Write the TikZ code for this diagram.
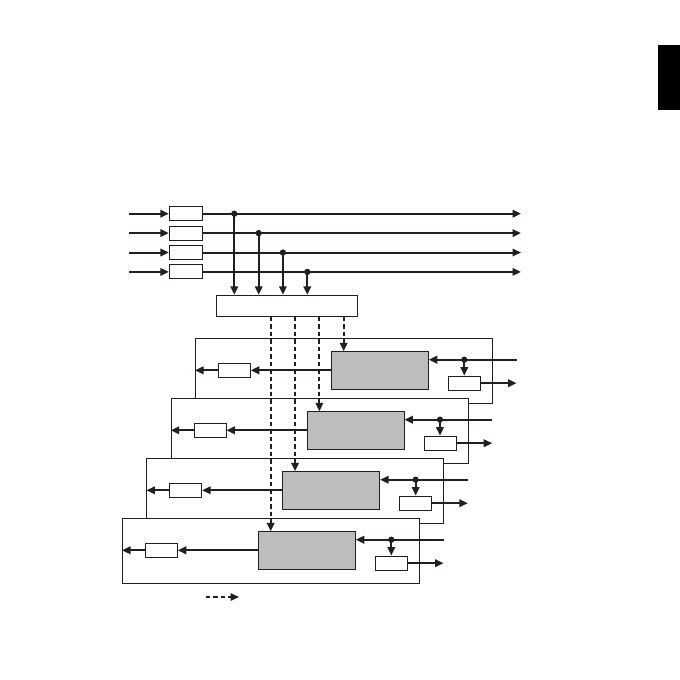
\documentclass[tikz,border=0pt]{standalone}
\usetikzlibrary{arrows.meta}
\definecolor{boxgray}{RGB}{189,189,189}
\definecolor{ink}{RGB}{35,31,32}
\tikzset{
  sig/.style={line width=2pt,draw=ink},
  arr/.style={sig,-{Triangle[length=8.5pt,width=7.5pt]}},
  dsh/.style={line width=2pt,draw=ink,dash pattern=on 4.5pt off 3pt,-{Triangle[length=8.5pt,width=7.5pt]}},
  sbox/.style={draw=ink,line width=0.9pt,fill=white,inner sep=0pt},
  gbox/.style={draw=ink,line width=0.9pt,fill=boxgray,inner sep=0pt,minimum width=97pt,minimum height=38pt},
  frame/.style={draw=ink,line width=0.9pt,fill=white,inner sep=0pt,minimum width=296.8pt,minimum height=65.3pt},
  dotc/.style={fill=ink,circle,inner sep=0pt,minimum size=6pt},
}
\begin{document}
\begin{tikzpicture}[x=1pt,y=-1pt]
\useasboundingbox (0,0) rectangle (680,680);
% black tab
\fill (658,45) rectangle (680,110);
% top section
\node[sbox,minimum width=141pt,minimum height=21pt] (big) at (286.8,305.7) {};
\foreach \i/\dx in {0/234.3,1/258.7,2/282.9,3/307.3}{
  \pgfmathsetmacro{\ry}{213.7+19.4*\i}
  \coordinate (in\i) at (129,\ry);
  \node[sbox,minimum width=33pt,minimum height=14pt] (ib\i) at (185.8,\ry) {};
  \coordinate (out\i) at (521,\ry);
  \node[dotc] (dot\i) at (\dx,\ry) {};
}
\foreach \i in {0,1,2,3}{
  \draw[arr] (in\i) -- (ib\i.west);
  \draw[arr] (ib\i.east) -- (out\i);
  \draw[arr] (dot\i.center) -- (big.north -| dot\i);
}
\foreach \i in {0,1,2,3}{\node[dotc] at (dot\i) {};}
% layers
\foreach \k in {0,1,2,3}{
  \pgfmathsetmacro{\dx}{-24.33*\k}
  \pgfmathsetmacro{\dy}{60*\k}
  \begin{scope}[shift={(\dx,\dy)}]
    \node[frame] (fr\k) at (343.9,370.7) {};
    \node[gbox] (g\k) at (379.8,370.3) {};
    \node[sbox,minimum width=32pt,minimum height=14pt] (lb\k) at (234.3,370.3) {};
    \node[sbox,minimum width=32pt,minimum height=14.3pt] (rb\k) at (464.3,383.2) {};
    \coordinate (rin\k) at (516.7,359.7);
    \coordinate (rout\k) at (516.5,383.2);
    \node[dotc] (rd\k) at (464.3,359.7) {};
    \coordinate (d\k) at (343.7,351.3);
    \draw[arr] (g\k.west |- lb\k) -- (lb\k.east);
    \draw[arr] (lb\k.west) -- (fr\k.west |- lb\k);
    \draw[arr] (rin\k) -- (g\k.east |- rin\k);
    \draw[arr] (rd\k.center) -- (rb\k.north);
    \draw[arr] (rb\k.east) -- (rout\k);
    \node[dotc] at (rd\k) {};
  \end{scope}
}
% dashed control lines
\foreach \k in {0,1,2,3}{
  \draw[dsh] (big.south -| d\k) -- (d\k);
}
% legend
\coordinate (la) at (205.7,597);
\coordinate (lz) at (239,597);
\draw[dsh] (la) -- (lz);
\end{tikzpicture}
\end{document}
